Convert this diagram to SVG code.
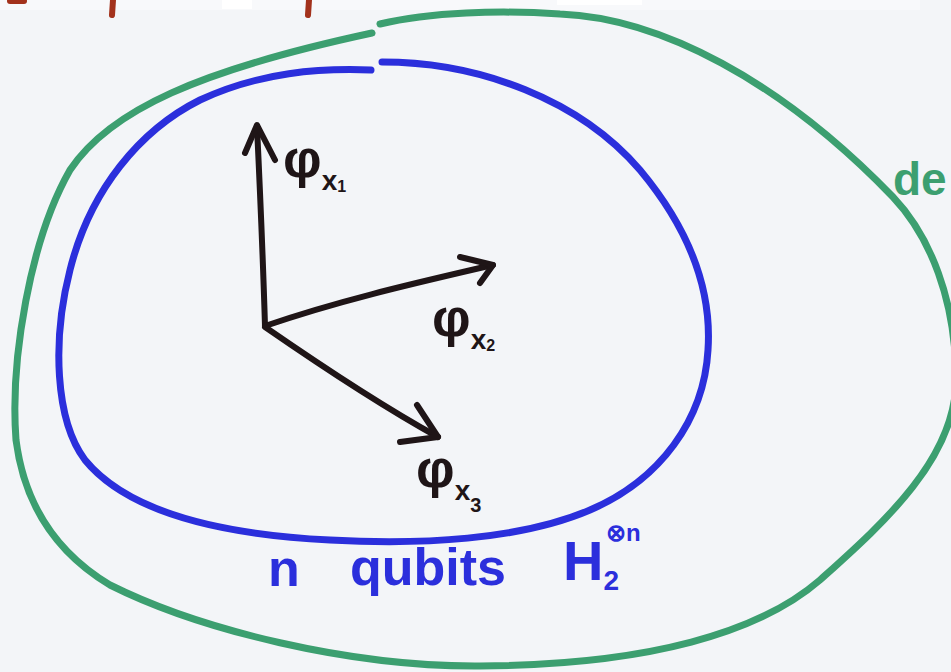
<svg xmlns="http://www.w3.org/2000/svg" width="951" height="672" viewBox="0 0 951 672">
<style>
.bg{fill:#f3f5f8}
.green{fill:none;stroke:#3c9f70;stroke-width:7;stroke-linecap:round;stroke-linejoin:round}
.blue{fill:none;stroke:#2b2fdc;stroke-width:7;stroke-linecap:round;stroke-linejoin:round}
.vec{fill:none;stroke:#1f1517;stroke-width:6;stroke-linecap:round;stroke-linejoin:round}
.red{fill:none;stroke:#a3321c;stroke-width:6;stroke-linecap:round}
.lbl{font-family:"Liberation Sans",Arial,sans-serif;font-weight:bold;fill:#1f1517}
.btxt{font-family:"Liberation Sans",Arial,sans-serif;font-weight:bold;fill:#2b2fdc}
.gtxt{font-family:"Liberation Sans",Arial,sans-serif;font-weight:bold;fill:#3c9f70}
</style>
<rect class="bg" x="0" y="0" width="951" height="672"/>
<rect x="0" y="0" width="920" height="10" fill="#f8f9fb"/>
<rect x="222" y="0" width="30" height="9" fill="#ffffff"/>
<rect x="557" y="0" width="85" height="5" fill="#ffffff"/>
<g id="title-fragments">
<path class="red" d="M113,0 L112,15"/>
<path class="red" d="M309,0 L308,15"/>
<path class="red" d="M10,1 L24,1"/>
</g>
<g id="outer-set">
<path class="green" d="M380,24 C430,12 500,10 560,14 C660,18 780,80 893,197 C930,236 956,300 956,380 C956,460 880,526 820,580 C760,632 650,665 480,666 C350,667 200,630 110,585 C60,555 25,510 16,440 C10,360 30,240 70,170 C110,110 200,70 372,33"/>
<text class="gtxt" x="893" y="195" font-size="46">de</text>
</g>
<g id="qubit-space">
<path class="blue" d="M382,62 C480,62 580,100 640,170 C690,230 712,290 708,350 C704,420 660,480 590,510 C520,540 420,545 330,540 C230,535 130,515 85,460 C55,420 52,340 70,270 C90,190 140,130 200,100 C260,72 320,68 371,70"/>
<text class="btxt" x="268" y="586" font-size="52">n</text>
<text class="btxt" x="350" y="585" font-size="52" textLength="156" lengthAdjust="spacingAndGlyphs">qubits</text>
<text class="btxt" x="563" y="580" font-size="56">H<tspan font-size="28" dy="10">2</tspan></text>
<text class="btxt" x="606" y="541" font-size="24">⊗n</text>
</g>
<g id="connectors">
<path class="vec" d="M265,326 C263,260 260,190 257,127"/>
<path class="vec" d="M245,153 L257,125 L275,160"/>
<path class="vec" d="M265,326 C340,300 420,282 493,265"/>
<path class="vec" d="M460,257 L493,265 L480,283"/>
<path class="vec" d="M265,327 C320,365 380,405 438,437"/>
<path class="vec" d="M417,405 L438,437 L400,442"/>
</g>
<g id="label-phi1">
<text class="lbl" x="283" y="177" font-size="54">φ<tspan font-size="28" dy="13">x</tspan><tspan font-size="16" dy="2">1</tspan></text>
</g>
<g id="label-phi2">
<text class="lbl" x="432" y="336" font-size="54">φ<tspan font-size="28" dy="13">x</tspan><tspan font-size="16" dy="2">2</tspan></text>
</g>
<g id="label-phi3">
<text class="lbl" x="416" y="487" font-size="54">φ<tspan font-size="28" dy="13">x</tspan><tspan font-size="20" dy="12">3</tspan></text>
</g>
</svg>
